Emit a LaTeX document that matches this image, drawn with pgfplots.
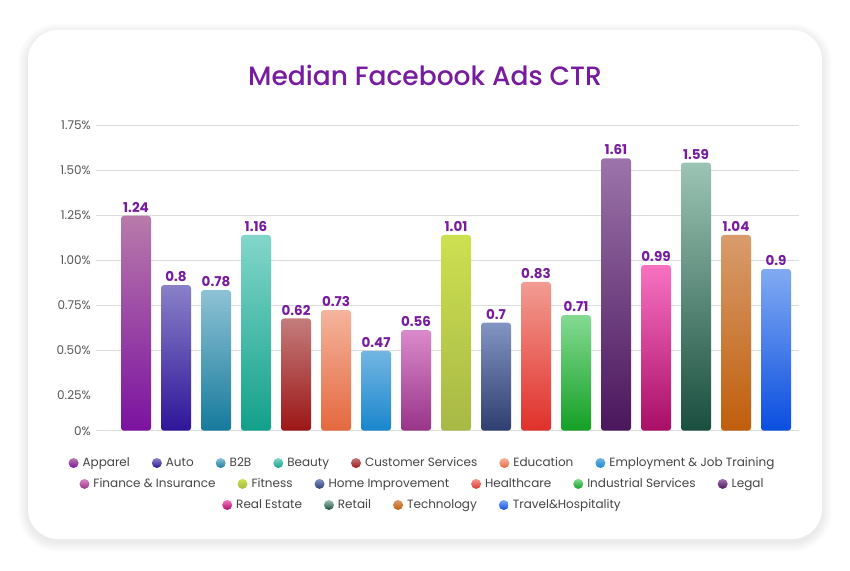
\documentclass[border=0pt]{standalone}
\usepackage{pgfplots}
\pgfplotsset{compat=1.18}
\usepackage{fontspec}
\setmainfont{Poppins}
\newfontfamily\titlefont{Poppins}[UprightFont=* Medium]
\definecolor{ttl}{HTML}{771BA0}
\definecolor{tick}{HTML}{555555}
\definecolor{leg}{HTML}{444444}
\definecolor{gridc}{HTML}{DCDCDC}
\definecolor{t1}{HTML}{B87AAA}\definecolor{b1}{HTML}{7B12A0}
\definecolor{t2}{HTML}{8A80C8}\definecolor{b2}{HTML}{2E1598}
\definecolor{t3}{HTML}{8EC2D4}\definecolor{b3}{HTML}{167A9C}
\definecolor{t4}{HTML}{82D6CA}\definecolor{b4}{HTML}{12A08A}
\definecolor{t5}{HTML}{C47C7C}\definecolor{b5}{HTML}{9C1616}
\definecolor{t6}{HTML}{F4B49C}\definecolor{b6}{HTML}{E4683E}
\definecolor{t7}{HTML}{72B6E2}\definecolor{b7}{HTML}{1A86CC}
\definecolor{t8}{HTML}{DA8ACA}\definecolor{b8}{HTML}{983488}
\definecolor{t9}{HTML}{CCE050}\definecolor{b9}{HTML}{A8B846}
\definecolor{t10}{HTML}{8294C2}\definecolor{b10}{HTML}{2E3E70}
\definecolor{t11}{HTML}{F29C92}\definecolor{b11}{HTML}{E0302A}
\definecolor{t12}{HTML}{84DA92}\definecolor{b12}{HTML}{14A024}
\definecolor{t13}{HTML}{9C74AA}\definecolor{b13}{HTML}{4A165C}
\definecolor{t14}{HTML}{F872C2}\definecolor{b14}{HTML}{A80E66}
\definecolor{t15}{HTML}{9CC4B4}\definecolor{b15}{HTML}{1A4E3E}
\definecolor{t16}{HTML}{D89C6C}\definecolor{b16}{HTML}{C05E0C}
\definecolor{t17}{HTML}{82AAF2}\definecolor{b17}{HTML}{0A4EE0}
\pgfplotsset{
  mybar/.style={draw=none, top color=t#1, bottom color=b#1, rounded corners=3pt,
    legend image code/.code={\shade[top color=t#1,bottom color=b#1] (0pt,0pt) circle (5pt);}},
  legrow/.style={legend style={draw=none, fill=none, anchor=center, legend columns=-1,
    font=\fontsize{12}{14}\selectfont\color{leg},
    /tikz/every even column/.append style={column sep=20pt},
    /tikz/every odd column/.append style={column sep=2pt}}},
  base/.style={at={(96pt,139.3pt)}, anchor=south west, scale only axis,
    width=703pt, height=305.7pt, xmin=-1, xmax=16.575, ymin=0.052, ymax=1.75}
}
\begin{document}
\begin{tikzpicture}[x=1pt,y=1pt]
\fill[white] (0,0) rectangle (850,570);
\foreach \i in {1,...,10}{
  \fill[black, opacity=0.007, rounded corners={30+\i}] (28-\i,31-\i-3) rectangle (822+\i,540+\i-3);
}
\fill[white, rounded corners=30] (28,31) rectangle (822,540);
\node[font=\titlefont\fontsize{26.5}{31}\selectfont, text=ttl] at (425,495) {Median Facebook Ads CTR};
\begin{axis}[base, ybar, bar width=30pt, bar shift=0pt,
  axis line style={draw=none}, major tick length=0pt,
  xtick=\empty,
  ytick={0.052,0.5,0.75,1,1.25,1.5,1.75},
  yticklabels={0\%,0.50\%,0.75\%,1.00\%,1.25\%,1.50\%,1.75\%},
  extra y ticks={0.25}, extra y tick labels={0.25\%}, extra y tick style={grid=none},
  ymajorgrids, grid style={gridc, line width=0.9pt},
  yticklabel style={font=\fontsize{12}{14}\selectfont, text=tick, inner sep=0pt, xshift=-5pt},
  point meta=explicit symbolic,
  nodes near coords,
  nodes near coords style={font=\bfseries\fontsize{13.5}{15}\selectfont, text=ttl, anchor=south, inner sep=3pt},
  legrow, legend style={at={(0.4644,-0.1057)}},
  clip=false]
\addplot[mybar=1] coordinates {(0,1.246) [1.24]};
\addlegendentry{Apparel}
\addplot[mybar=2] coordinates {(1,0.861) [0.8]};
\addlegendentry{Auto}
\addplot[mybar=3] coordinates {(2,0.833) [0.78]};
\addlegendentry{B2B}
\addplot[mybar=4] coordinates {(3,1.139) [1.16]};
\addlegendentry{Beauty}
\addplot[mybar=5] coordinates {(4,0.676) [0.62]};
\addlegendentry{Customer Services}
\addplot[mybar=6] coordinates {(5,0.722) [0.73]};
\addlegendentry{Education}
\addplot[mybar=7] coordinates {(6,0.496) [0.47]};
\addlegendentry{Employment \& Job Training}
\addplot[mybar=8] coordinates {(7,0.611) [0.56]};
\addplot[mybar=9] coordinates {(8,1.139) [1.01]};
\addplot[mybar=10] coordinates {(9,0.652) [0.7]};
\addplot[mybar=11] coordinates {(10,0.878) [0.83]};
\addplot[mybar=12] coordinates {(11,0.694) [0.71]};
\addplot[mybar=13] coordinates {(12,1.565) [1.61]};
\addplot[mybar=14] coordinates {(13,0.972) [0.99]};
\addplot[mybar=15] coordinates {(14,1.541) [1.59]};
\addplot[mybar=16] coordinates {(15,1.139) [1.04]};
\addplot[mybar=17] coordinates {(16,0.950) [0.9]};
\end{axis}
\begin{axis}[base, hide axis, legrow, legend style={at={(0.4644,-0.174)}}]
\addlegendimage{mybar=8}\addlegendentry{Finance \& Insurance}
\addlegendimage{mybar=9}\addlegendentry{Fitness}
\addlegendimage{mybar=10}\addlegendentry{Home Improvement}
\addlegendimage{mybar=11}\addlegendentry{Healthcare}
\addlegendimage{mybar=12}\addlegendentry{Industrial Services}
\addlegendimage{mybar=13}\addlegendentry{Legal}
\end{axis}
\begin{axis}[base, hide axis, legrow, legend style={at={(0.4644,-0.243)}}]
\addlegendimage{mybar=14}\addlegendentry{Real Estate}
\addlegendimage{mybar=15}\addlegendentry{Retail}
\addlegendimage{mybar=16}\addlegendentry{Technology}
\addlegendimage{mybar=17}\addlegendentry{Travel\&Hospitality}
\end{axis}
\end{tikzpicture}
\end{document}
